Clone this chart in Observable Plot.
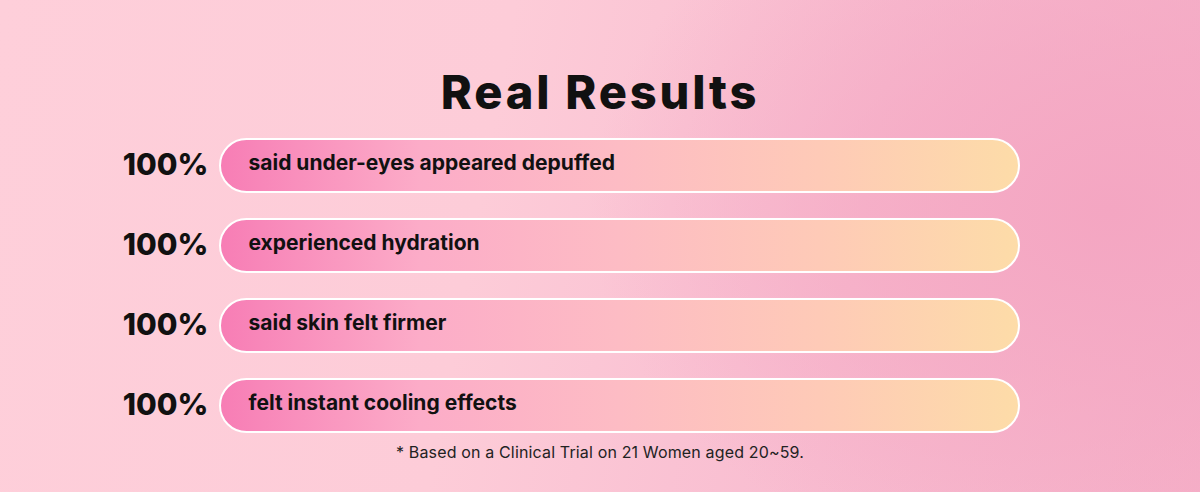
<!DOCTYPE html>
<html>
<head>
<meta charset="utf-8">
<script src="https://cdn.jsdelivr.net/npm/d3@7"></script>
<script src="https://cdn.jsdelivr.net/npm/@observablehq/plot@0.6"></script>
<style>
  html, body { margin: 0; padding: 0; }
  body {
    width: 1200px; height: 492px; overflow: hidden;
    font-family: Inter, "Noto Sans", sans-serif;
    background:
      radial-gradient(ellipse 520px 380px at 1110px 210px, rgba(244,166,194,1) 0%, rgba(244,166,194,0.6) 45%, rgba(244,166,194,0) 100%),
      linear-gradient(100deg, #fecfda 0%, #fdccd8 40%, #f8bcd0 70%, #f5b0c8 100%);
  }
  #wrap { position: relative; width: 1200px; height: 492px; }
  #title {
    position: absolute; left: 0; right: 0; top: 64px;
    text-align: center; font-weight: 800; font-size: 47px; color: #111;
    line-height: 56px; letter-spacing: 2.8px;
  }
  #caption {
    position: absolute; left: 0; right: 0; top: 442px;
    text-align: center; font-weight: 400; font-size: 16px; color: #222;
    line-height: 20px; letter-spacing: 0.15px;
  }
  #chart { position: absolute; left: 0; top: 0; }
</style>
</head>
<body>
<div id="wrap">
  <div id="chart"></div>
  <div id="title">Real Results</div>
  <div id="caption">* Based on a Clinical Trial on 21 Women aged 20~59.</div>
</div>
<script>
const categories = [
  "said under-eyes appeared depuffed",
  "experienced hydration",
  "said skin felt firmer",
  "felt instant cooling effects"
];
const values = [100, 100, 100, 100];
const valueLabels = ["100%", "100%", "100%", "100%"];

const data = categories.map((c, i) => ({category: c, value: values[i], label: valueLabels[i]}));

const chart = Plot.plot({
  width: 1200,
  height: 492,
  marginLeft: 220,
  marginRight: 181,
  marginTop: 111.5,
  marginBottom: 33.5,
  style: {background: "transparent", fontFamily: "Inter, 'Noto Sans', sans-serif", overflow: "visible"},
  x: {domain: [0, 100], axis: null},
  y: {domain: categories, axis: null, padding: 0.3375},
  marks: [
    Plot.barX(data, {
      x: "value", y: "category",
      fill: "url(#barGrad)", stroke: "white", strokeWidth: 2,
      rx: 26.5
    }),
    Plot.text(data, {
      x: 0, y: "category", text: "category",
      textAnchor: "start", dx: 28, dy: -3,
      fontSize: 21, fontWeight: 700, fill: "#111"
    }),
    Plot.text(data, {
      x: 0, y: "category", text: "label",
      textAnchor: "end", dx: -12, dy: -1,
      fontSize: 30, fontWeight: 800, fill: "#111"
    })
  ]
});

d3.select(chart).insert("defs", ":first-child").html(`
  <linearGradient id="barGrad" x1="0" y1="0" x2="1" y2="0">
    <stop offset="0%" stop-color="#f77db5"/>
    <stop offset="25%" stop-color="#fcacc8"/>
    <stop offset="50%" stop-color="#fdbcc4"/>
    <stop offset="75%" stop-color="#fecab7"/>
    <stop offset="100%" stop-color="#fddca8"/>
  </linearGradient>`);

document.getElementById("chart").appendChild(chart);
</script>
</body>
</html>
